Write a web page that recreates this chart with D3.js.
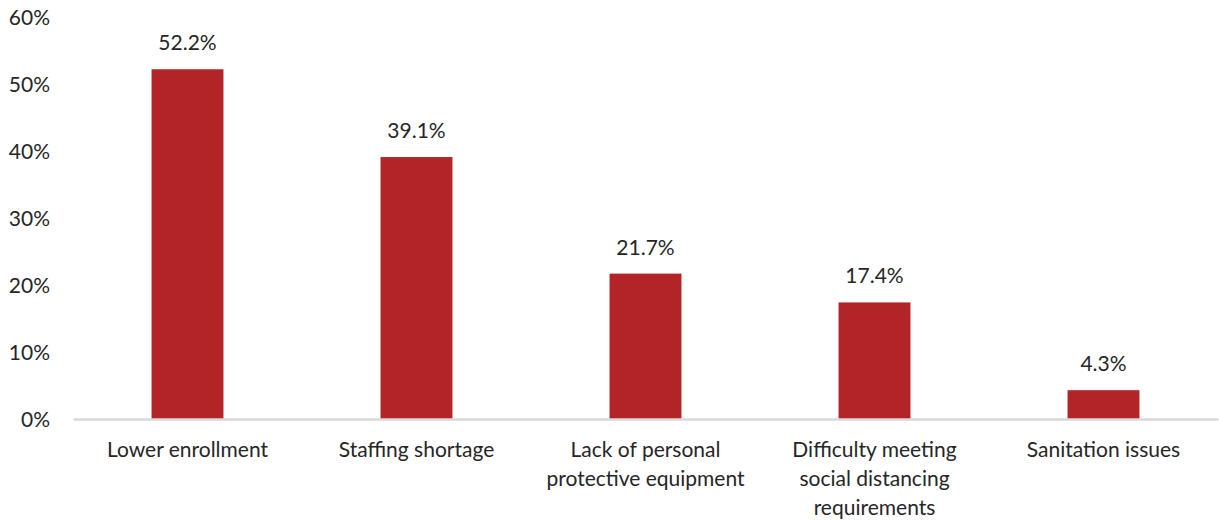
<!DOCTYPE html>
<html>
<head>
<meta charset="utf-8">
<script src="https://cdn.jsdelivr.net/npm/d3@7"></script>
<style>
  html, body { margin: 0; padding: 0; background: #fff; }
  svg text { font-family: Lato, "Open Sans", sans-serif; fill: #262626; }
</style>
</head>
<body>
<svg id="chart" width="1219" height="522"></svg>
<script>
// Reported challenges, share of respondents
const categories = [
  "Lower enrollment",
  "Staffing shortage",
  "Lack of personal\nprotective equipment",
  "Difficulty meeting\nsocial distancing\nrequirements",
  "Sanitation issues"
];
const values = [52.2, 39.1, 21.7, 17.4, 4.3];
const yTicks = [0, 10, 20, 30, 40, 50, 60];

const svg = d3.select("#chart");
const margin = { left: 73, right: 1, top: 17, bottom: 103 };
const W = +svg.attr("width"), H = +svg.attr("height");
const fontSize = "21px";

const x = d3.scaleBand()
  .domain(categories)
  .range([margin.left, W - margin.right])
  .paddingInner(0.686)
  .paddingOuter(0.343);

const y = d3.scaleLinear()
  .domain([0, 60])
  .range([H - margin.bottom, margin.top]);

// y axis: labels only
const yAxis = d3.axisLeft(y)
  .tickValues(yTicks)
  .tickFormat(d => d + "%")
  .tickSize(0)
  .tickPadding(23);
const gy = svg.append("g")
  .attr("transform", `translate(${margin.left},0)`)
  .call(yAxis);
gy.select(".domain").remove();
gy.selectAll("text").style("font-size", fontSize).attr("dy", "0.35em");

// bars
svg.append("g").selectAll("rect")
  .data(values)
  .join("rect")
  .attr("x", (d, i) => x(categories[i]))
  .attr("width", x.bandwidth())
  .attr("y", d => y(d))
  .attr("height", d => y(0) - y(d))
  .attr("fill", "#B22427");

// baseline
const gx = svg.append("g")
  .attr("transform", `translate(0,${y(0)})`)
  .call(d3.axisBottom(x).tickSize(0).tickFormat(""));
gx.select(".domain")
  .attr("stroke", "#D9D9D9")
  .attr("stroke-width", 2.5);
gx.selectAll(".tick text").remove();

// category labels, wrapped onto several lines
const lab = svg.append("g").selectAll("text")
  .data(categories)
  .join("text")
  .attr("text-anchor", "middle")
  .style("font-size", fontSize)
  .attr("x", d => x(d) + x.bandwidth() / 2)
  .attr("y", y(0) + 38);
lab.each(function(d) {
  const t = d3.select(this);
  d.split("\n").forEach((line, k) => {
    t.append("tspan")
      .attr("x", x(d) + x.bandwidth() / 2)
      .attr("dy", k === 0 ? 0 : 29)
      .text(line);
  });
});

// value labels
svg.append("g").selectAll("text")
  .data(values)
  .join("text")
  .attr("text-anchor", "middle")
  .style("font-size", fontSize)
  .attr("x", (d, i) => x(categories[i]) + x.bandwidth() / 2)
  .attr("y", d => y(d) - 19)
  .text(d => d.toFixed(1) + "%");
</script>
</body>
</html>
